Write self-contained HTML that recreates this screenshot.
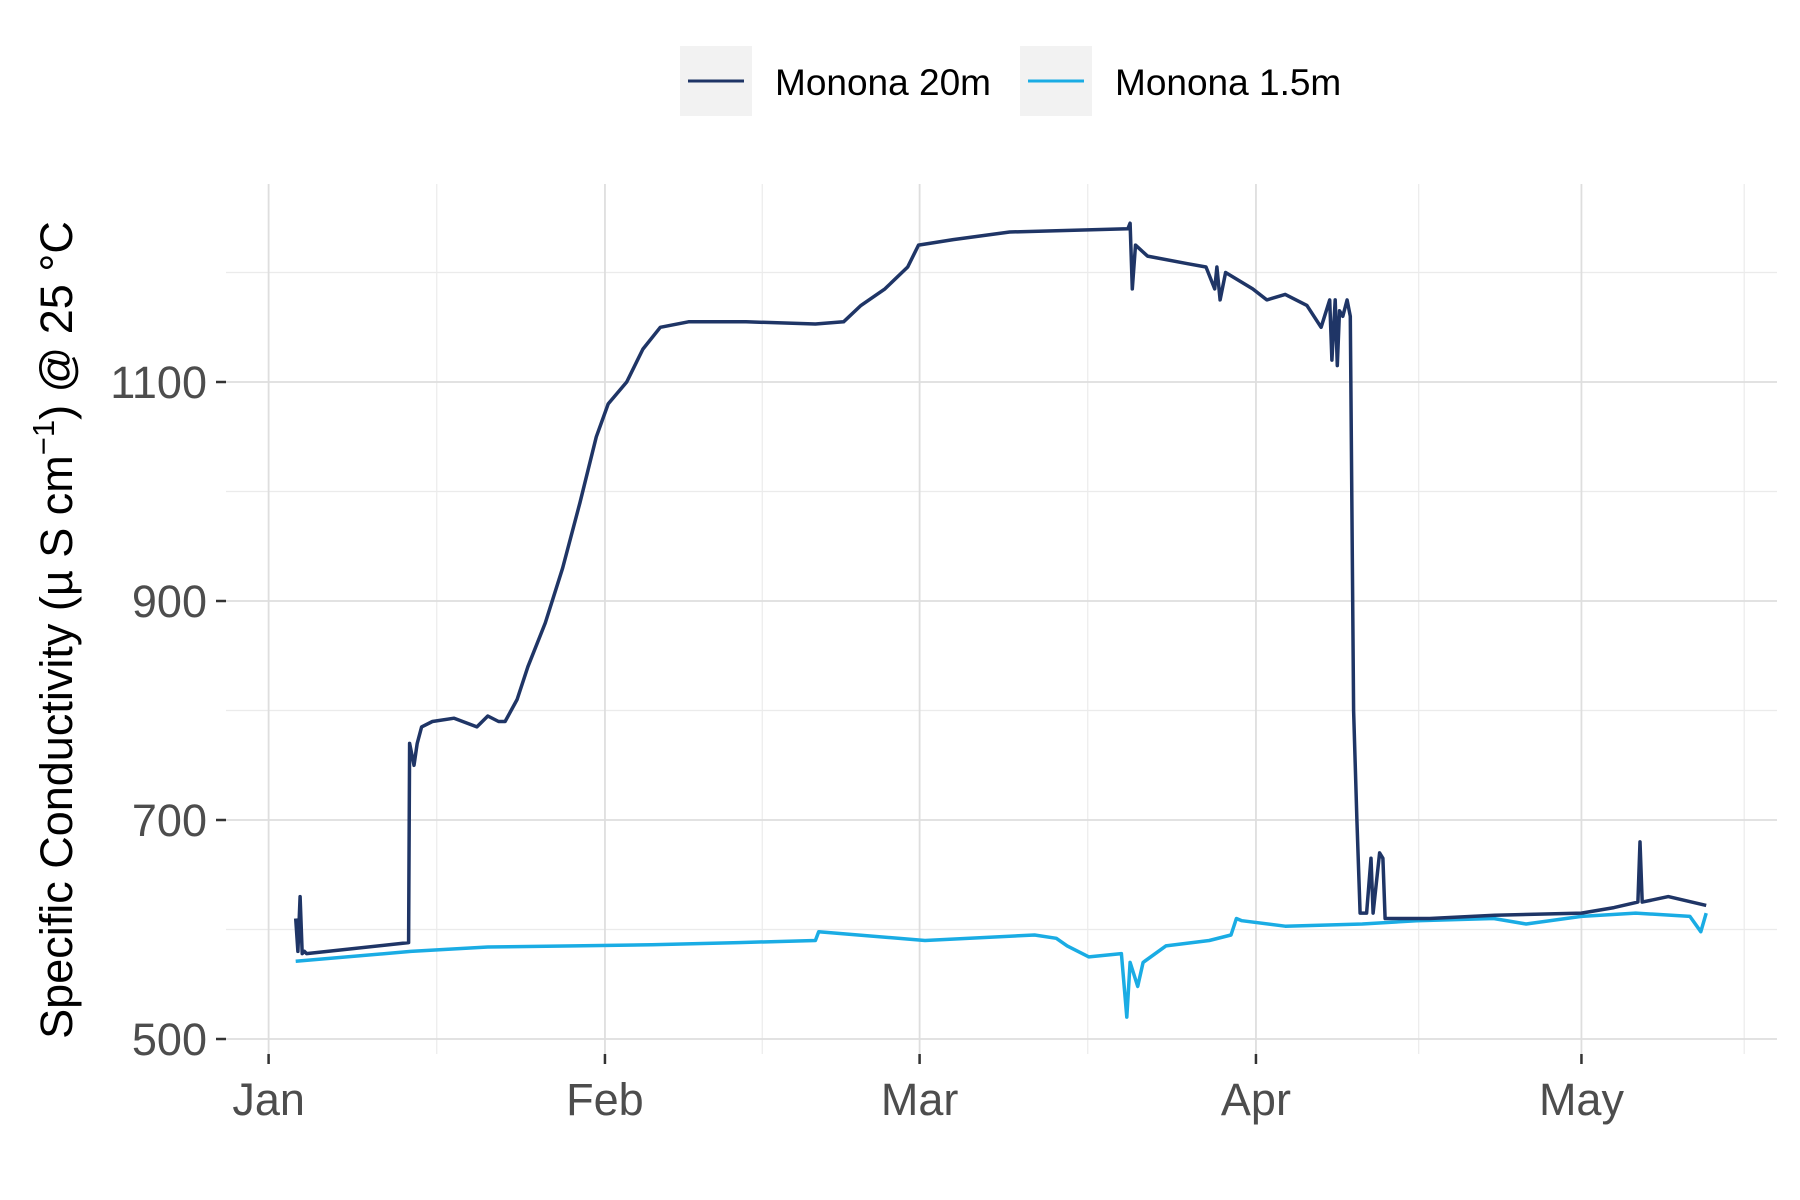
<!DOCTYPE html>
<html><head><meta charset="utf-8"><style>
html,body{margin:0;padding:0;background:#fff;}
svg{display:block;font-family:"Liberation Sans",sans-serif;}
</style></head><body>
<svg id="chart" width="1800" height="1200" viewBox="0 0 1800 1200">
<g id="grid"></g>
<g id="axes"></g>
<g id="series"></g>
<text transform="translate(72,630) rotate(-90)" text-anchor="middle" font-size="45" fill="#000">Specific Conductivity (µ S cm<tspan dy="-18" font-size="31">−1</tspan><tspan dy="18">) @ 25 °C</tspan></text>
<g>
<g>
<rect x="680" y="46" width="72" height="70" fill="#f2f2f2"/>
<line x1="688" y1="81" x2="744" y2="81" stroke="#1f3566" stroke-width="3"/>
<text x="775" y="95" font-size="37" fill="#000">Monona 20m</text>
</g>
<g>
<rect x="1020" y="46" width="72" height="70" fill="#f2f2f2"/>
<line x1="1028" y1="81" x2="1084" y2="81" stroke="#1aace4" stroke-width="3"/>
<text x="1115" y="95" font-size="37" fill="#000">Monona 1.5m</text>
</g>
</g>
</svg>
<script>
const yTicks=[500,700,900,1100];
const yMinor=[600,800,1000,1200];
const monthLabels=["Jan","Feb","Mar","Apr","May"];
const monthDays=[0,31,60,91,121];
const minorDays=[15.5,45.5,75.5,106,136];
const days20=[2.5,2.7,2.9,3.1,3.3,3.5,12.9,13,13.4,13.7,14.1,15.1,17.1,19.2,20.2,21.2,21.8,22.9,23.9,25.5,27.1,28.7,30.2,31.3,33,34.5,36.1,38.7,44,50.4,53,54.6,56.8,58.9,59.9,63.1,68.3,79.2,79.4,79.6,79.9,81,84.7,86.4,87.2,87.4,87.7,88.2,90.7,92,93.7,95.7,97,97.8,98,98.3,98.5,98.7,99,99.4,99.7,100,100.3,100.6,101.2,101.6,101.8,102.4,102.7,102.9,107,113,121,124,126.2,126.4,126.6,129,132.5];
const vals20=[610,580,630,578,580,578,588,770,750,770,785,790,793,785,795,790,790,810,840,880,930,990,1050,1080,1100,1130,1150,1155,1155,1153,1155,1170,1185,1205,1225,1230,1237,1240,1245,1185,1225,1215,1208,1205,1185,1205,1175,1200,1185,1175,1180,1170,1150,1175,1120,1175,1115,1165,1160,1175,1160,800,700,615,615,665,615,670,665,610,610,613,615,620,625,680,625,630,622];
const days15=[2.5,13.1,20.2,28.2,35.3,43.3,50.4,50.7,60.5,70.6,72.6,73.6,75.6,78.6,79.1,79.4,80.1,80.6,82.7,86.7,88.7,89.2,89.7,93.7,100.8,105.8,112.9,115.9,121,126,131,132,132.5];
const vals15=[571,580,584,585,586,588,590,598,590,595,592,585,575,578,520,570,548,570,585,590,595,610,608,603,605,608,610,605,612,615,612,598,615];
const X=d=>268.6+d*10.85;
const Y=v=>1039-(v-500)*1.095;
const NS="http://www.w3.org/2000/svg";
function mk(tag,attrs,parent){const e=document.createElementNS(NS,tag);for(const k in attrs)e.setAttribute(k,attrs[k]);parent.appendChild(e);return e;}
const grid=document.getElementById('grid'),axes=document.getElementById('axes'),series=document.getElementById('series');
yMinor.forEach(v=>{const l=mk('line',{x1:226,x2:1777,y1:Y(v),y2:Y(v),stroke:'#ebebeb','stroke-width':1.2},grid);

});
minorDays.forEach(d=>{const l=mk('line',{x1:X(d),x2:X(d),y1:184,y2:1054,stroke:'#ebebeb','stroke-width':1.2},grid);

});
yTicks.forEach(v=>{const l=mk('line',{x1:226,x2:1777,y1:Y(v),y2:Y(v),stroke:'#dedede','stroke-width':1.8},grid);


const t=mk('line',{x1:216,x2:226,y1:Y(v),y2:Y(v),stroke:'#333','stroke-width':2.5},axes);


const tx=mk('text',{x:207,y:Y(v)+16,'text-anchor':'end','font-size':45,fill:'#4d4d4d'},axes);tx.textContent=v;

});
monthDays.forEach((d,i)=>{const l=mk('line',{x1:X(d),x2:X(d),y1:184,y2:1054,stroke:'#dedede','stroke-width':1.8},grid);


const t=mk('line',{x1:X(d),x2:X(d),y1:1054,y2:1064,stroke:'#333','stroke-width':2.5},axes);


const tx=mk('text',{x:X(d),y:1115,'text-anchor':'middle','font-size':45,fill:'#4d4d4d'},axes);tx.textContent=monthLabels[i];

});
function line(ds,vs,color,name){const pts=ds.map((d,i)=>X(d).toFixed(1)+','+Y(vs[i]).toFixed(1)).join(' ');
const p=mk('polyline',{points:pts,fill:'none',stroke:color,'stroke-width':3.5,'stroke-linejoin':'round'},series);

}
line(days15,vals15,'#1aace4','series-monona-1-5m');
line(days20,vals20,'#1f3566','series-monona-20m');
</script>
</body></html>
